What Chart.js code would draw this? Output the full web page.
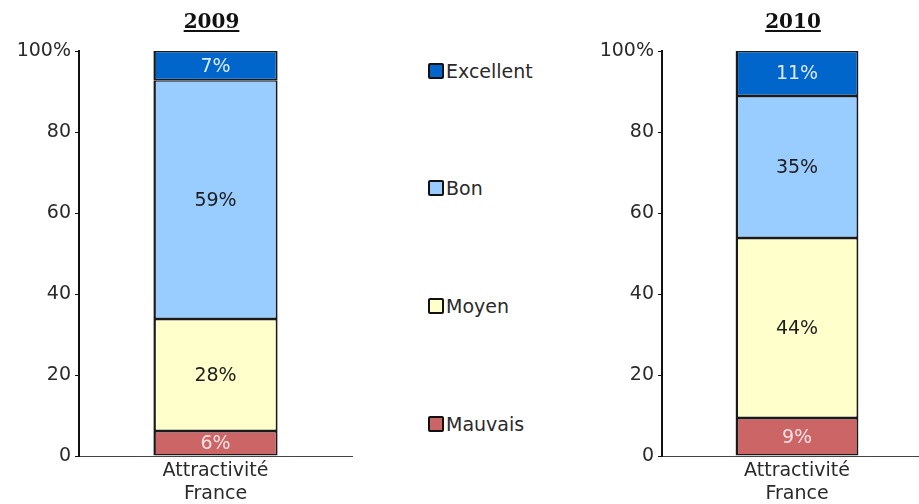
<!DOCTYPE html>
<html>
<head>
<meta charset="utf-8">
<script src="https://cdn.jsdelivr.net/npm/chart.js@4"></script>
<style>
  html, body { margin: 0; padding: 0; background: #fff; overflow: hidden; width: 919px; height: 504px; }
  canvas { position: absolute; top: 0; }
  #left { left: 0; }
  #right { left: 600px; }
  .legend { position: absolute; left: 428px; font: 19px "DejaVu Sans", sans-serif; color: #2a2a2a; }
  .legend div { position: absolute; display: flex; align-items: center; white-space: nowrap; }
  .legend span.box { display: inline-block; width: 12px; height: 12px; border: 2px solid #111; border-radius: 2px; margin-right: 2px; }
</style>
</head>
<body>
<canvas id="left" width="410" height="504"></canvas>
<canvas id="right" width="340" height="504"></canvas>
<div class="legend" id="legend"></div>
<script>
const categories = [['Attractivité', 'France']]
const seriesNames = ['Mauvais', 'Moyen', 'Bon', 'Excellent']
const seriesColors = ['#cc6666', '#ffffcc', '#99ccff', '#0066cc']
const labelColors = ['#f6e0e0', '#1e1e1e', '#1e1e1e', '#dde9fb']
const values2009 = [6.2, 27.6, 59.0, 7.2]
const values2010 = [9.4, 44.4, 35.1, 11.1]
const yTicks = [0, 20, 40, 60, 80, 100]

Chart.defaults.font.family = '"DejaVu Sans", sans-serif'
Chart.defaults.font.size = 19
Chart.defaults.color = '#2a2a2a'

const underlinedTitle = {
  id: 'underlinedTitle',
  afterDraw(chart, args, opts) {
    const {ctx, chartArea} = chart
    const x = (chartArea.left + chartArea.right) / 2 - 4
    ctx.save()
    ctx.font = 'bold 20px "DejaVu Serif", serif'
    ctx.fillStyle = '#111'
    ctx.textAlign = 'center'
    ctx.textBaseline = 'alphabetic'
    ctx.fillText(opts.text, x, 28)
    const w = ctx.measureText(opts.text).width
    ctx.fillRect(x - w / 2, 30, w, 2)
    ctx.restore()
  }
}

const barLabels = {
  id: 'barLabels',
  afterDatasetsDraw(chart) {
    const {ctx} = chart
    ctx.save()
    ctx.font = '19px "DejaVu Sans", sans-serif'
    ctx.textAlign = 'center'
    ctx.textBaseline = 'middle'
    chart.data.datasets.forEach((ds, i) => {
      chart.getDatasetMeta(i).data.forEach((bar, j) => {
        const p = bar.getProps(['x', 'y', 'base'], true)
        ctx.fillStyle = labelColors[i]
        ctx.fillText(Math.round(ds.data[j]) + '%', p.x, (p.y + p.base) / 2 + 1)
      })
    })
    ctx.restore()
  }
}

function makeChart(id, title, values, axisWidth, padRight) {
  return new Chart(document.getElementById(id), {
    type: 'bar',
    data: {
      labels: categories,
      datasets: seriesNames.map((name, i) => ({
        label: name,
        data: [values[i]],
        backgroundColor: seriesColors[i],
        borderColor: '#1a1a1a',
        borderWidth: {top: 1.5, bottom: 1.5, left: 2.5, right: 2},
        borderSkipped: false,
        barPercentage: 0.455,
        categoryPercentage: 1
      }))
    },
    options: {
      responsive: false,
      animation: false,
      layout: {padding: {top: 51, right: padRight, bottom: 0, left: 0}},
      plugins: {
        legend: {display: false},
        tooltip: {enabled: false},
        underlinedTitle: {text: title}
      },
      scales: {
        x: {
          stacked: true,
          grid: {display: false, drawTicks: false},
          border: {color: '#444', width: 1},
          ticks: {padding: 4, font: {size: 19, lineHeight: 1.2}},
          afterFit(scale) { scale.height = 48 }
        },
        y: {
          stacked: true,
          min: 0,
          max: 100,
          afterBuildTicks(scale) { scale.ticks = yTicks.map(v => ({value: v})) },
          grid: {drawOnChartArea: false, drawTicks: true, tickLength: 4, color: '#111', lineWidth: 1},
          border: {color: '#111', width: 2},
          ticks: {
            padding: 4,
            callback: v => v === 100 ? '100%' : v
          },
          afterFit(scale) { scale.width = axisWidth }
        }
      }
    },
    plugins: [underlinedTitle, barLabels]
  })
}

makeChart('left', '2009', values2009, 79, 58)
makeChart('right', '2010', values2010, 62, 8)

// legend, top to bottom
const legendTops = [64, 181, 299, 417]
const legend = document.getElementById('legend')
seriesNames.slice().reverse().forEach((name, k) => {
  const i = seriesNames.length - 1 - k
  const row = document.createElement('div')
  row.style.top = (legendTops[k] - 4) + 'px'
  row.innerHTML = `<span class="box" style="background:${seriesColors[i]}"></span>${name}`
  legend.appendChild(row)
})
</script>
</body>
</html>
